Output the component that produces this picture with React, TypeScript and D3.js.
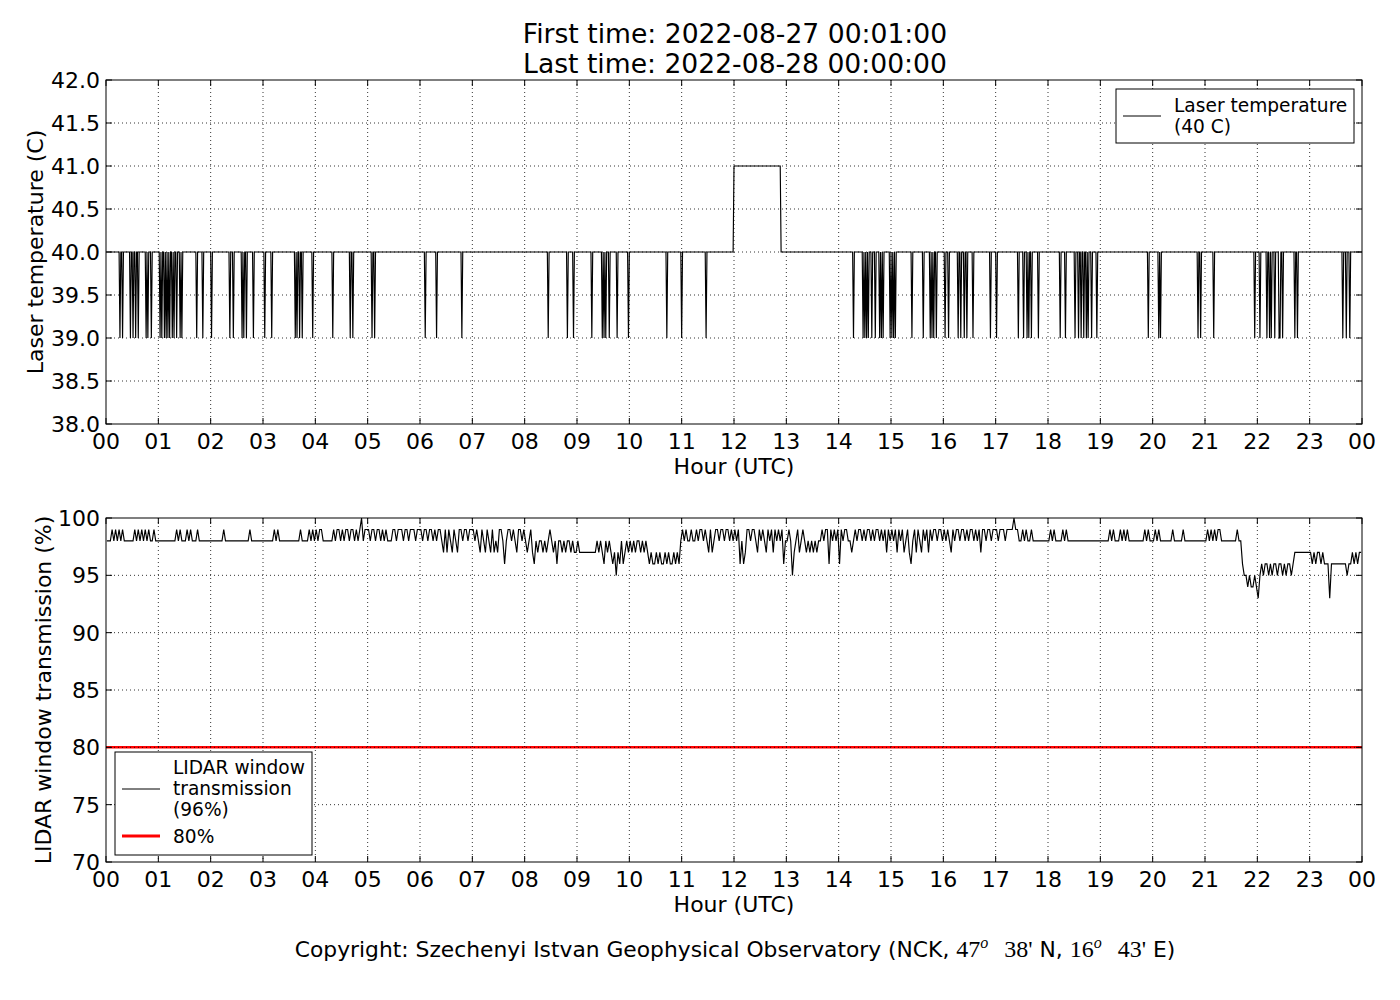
import React, { useRef, useEffect } from "react";
import * as d3 from "d3";

// hour labels along both x axes (0..24 h)
const hourLabels = [
  "00", "01", "02", "03", "04", "05", "06", "07", "08", "09", "10", "11",
  "12", "13", "14", "15", "16", "17", "18", "19", "20", "21", "22", "23", "00",
];
const laserTicks = [38, 38.5, 39, 39.5, 40, 40.5, 41, 41.5, 42];
const transmissionTicks = [70, 75, 80, 85, 90, 95, 100];

// laser temperature: 40 C baseline, one-minute drops to 39 C at these minutes of the day
const laserDipMinutes = [
  16, 19, 28, 31, 34, 37, 46, 48, 52, 62, 64, 67, 69, 71, 73, 76, 78, 81, 85, 87,
  104, 111, 121, 142, 146, 156, 158, 161, 169, 182, 190, 217, 219, 222, 225, 237,
  260, 280, 283, 305, 308, 366, 379, 408, 507, 529, 536, 557, 569, 571, 573, 577,
  586, 599, 643, 660, 688, 857, 868, 870, 872, 874, 878, 882, 887, 889, 891, 899,
  901, 903, 905, 924, 937, 945, 947, 949, 952, 962, 966, 977, 980, 984, 987, 994,
  1014, 1021, 1046, 1052, 1056, 1058, 1061, 1069, 1094, 1100, 1111, 1115, 1118,
  1121, 1124, 1126, 1130, 1136, 1195, 1207, 1209, 1252, 1255, 1270, 1317, 1323,
  1331, 1334, 1336, 1340, 1345, 1346, 1349, 1363, 1366, 1418, 1422, 1426,
];
// minutes where the laser sat at 41 C
const laserHighMinutes = [720, 773];

// window transmission, 2-minute samples per hour; digit = value - 90, X = 100
const transmissionByHour = [
  "8889898989 8888889898 9898988988",
  "8888888888 9898889898 8898888888",
  "8888888988 8888888888 8898888888",
  "8888889898 8888888888 8988889898",
  "9899888888 9899898998 998989X899",
  "9899899898 9888998999 8998999899",
  "9899899898 9987979879 8799899899",
  "9898798798 7978799868 9989879989",
  "8789768788 7878987868 8787887877",
  "8777777777 7878768787 6757686787",
  "8787887878 7676676766 7676676768",
  "9898898898 9989879789 9899899898",
  "9896867998 9987989879 8979898968",
  "8985789789 8787878788 9899698989",
  "6989988789 8998989989 8998989798",
  "9897989789 7689798798 9798998998",
  "9898798998 9989899898 9799899899",
  "9899989999 X998898988 9888888888",
  "8989888898 9888888888 8888888888",
  "8888898988 8989898888 8888898988",
  "8989888888 8988888988 8888888888",
  "8989898998 8888888898 8655454454",
  "3565665656 6566565665 6777777777",
  "7676776766 6366666666 6566767677",
];
const thresholdLevel = 80;

const titleLines = ["First time: 2022-08-27 00:01:00", "Last time: 2022-08-28 00:00:00"];

interface Point {
  t: number;
  v: number;
}

const laserSeries: Point[] = d3.range(1, 1441).map((m) => ({
  t: m / 60,
  v: laserDipMinutes.includes(m)
    ? 39
    : m >= laserHighMinutes[0] && m <= laserHighMinutes[1]
    ? 41
    : 40,
}));

const transmissionSeries: Point[] = transmissionByHour.flatMap((s, h) =>
  s
    .replace(/\s/g, "")
    .split("")
    .map((c, i) => ({ t: (h * 60 + i * 2 + 1) / 60, v: c === "X" ? 100 : 90 + Number(c) }))
);

const FONT = "DejaVu Sans, sans-serif";

const App: React.FC = () => {
  const svgRef = useRef<SVGSVGElement>(null);

  useEffect(() => {
    document.body.style.margin = "0";
    const svg = d3.select(svgRef.current);
    svg.selectAll("*").remove();

    const x = d3.scaleLinear().domain([0, 24]).range([106, 1362]);
    const yLaser = d3.scaleLinear().domain([38, 42]).range([424, 80]);
    const yTrans = d3.scaleLinear().domain([70, 100]).range([862, 518]);

    const drawPanel = (
      y: d3.ScaleLinear<number, number>,
      yTicks: number[],
      fmt: (v: number) => string,
      yLabel: string,
      yLabelX: number,
      series: Point[],
      extra?: (g: d3.Selection<SVGGElement, unknown, null, undefined>) => void
    ) => {
      const [yb, yt] = y.range();
      const [xl, xr] = x.range();
      const g = svg.append("g");
      const clipId = `clip-${yt}`;
      g.append("clipPath")
        .attr("id", clipId)
        .append("rect")
        .attr("x", xl)
        .attr("y", yt - 1)
        .attr("width", xr - xl)
        .attr("height", yb - yt + 2);

      const plot = g.append("g").attr("clip-path", `url(#${clipId})`);
      plot
        .append("path")
        .datum(series)
        .attr("fill", "none")
        .attr("stroke", "#000")
        .attr("stroke-width", 1.15)
        .attr(
          "d",
          d3
            .line<Point>()
            .x((d) => x(d.t))
            .y((d) => y(d.v))
        );
      if (extra) extra(plot);

      // dotted grid
      const grid = g
        .append("g")
        .attr("stroke", "#000")
        .attr("stroke-width", 0.8)
        .attr("stroke-dasharray", "1,3");
      grid
        .selectAll("line.gx")
        .data(d3.range(1, 24))
        .join("line")
        .attr("x1", (d) => x(d))
        .attr("x2", (d) => x(d))
        .attr("y1", yt)
        .attr("y2", yb);
      grid
        .selectAll("line.gy")
        .data(yTicks.slice(1, -1))
        .join("line")
        .attr("x1", xl)
        .attr("x2", xr)
        .attr("y1", (d) => y(d))
        .attr("y2", (d) => y(d));

      // frame
      g.append("rect")
        .attr("x", xl)
        .attr("y", yt)
        .attr("width", xr - xl)
        .attr("height", yb - yt)
        .attr("fill", "none")
        .attr("stroke", "#000")
        .attr("stroke-width", 1);

      // inward ticks on all four sides
      const ticks = g.append("g").attr("stroke", "#000").attr("stroke-width", 1);
      const hours = d3.range(0, 25);
      hours.forEach((h) => {
        ticks.append("line").attr("x1", x(h)).attr("x2", x(h)).attr("y1", yb).attr("y2", yb - 6);
        ticks.append("line").attr("x1", x(h)).attr("x2", x(h)).attr("y1", yt).attr("y2", yt + 6);
      });
      yTicks.forEach((v) => {
        ticks.append("line").attr("x1", xl).attr("x2", xl + 6).attr("y1", y(v)).attr("y2", y(v));
        ticks.append("line").attr("x1", xr).attr("x2", xr - 6).attr("y1", y(v)).attr("y2", y(v));
      });

      const labels = g.append("g").attr("font-family", FONT).attr("font-size", 22).attr("fill", "#000");
      labels
        .selectAll("text.xt")
        .data(hours)
        .join("text")
        .attr("x", (d) => x(d))
        .attr("y", yb + 25)
        .attr("text-anchor", "middle")
        .text((d) => hourLabels[d]);
      labels
        .selectAll("text.yt")
        .data(yTicks)
        .join("text")
        .attr("class", "yt")
        .attr("x", xl - 6)
        .attr("y", (d) => y(d))
        .attr("dy", "0.36em")
        .attr("text-anchor", "end")
        .text((d) => fmt(d));
      labels
        .append("text")
        .attr("x", (xl + xr) / 2)
        .attr("y", yb + 50)
        .attr("text-anchor", "middle")
        .text("Hour (UTC)");
      labels
        .append("text")
        .attr("transform", `translate(${yLabelX},${(yt + yb) / 2}) rotate(-90)`)
        .attr("dy", "0.36em")
        .attr("text-anchor", "middle")
        .text(yLabel);
      return g;
    };

    svg.append("rect").attr("width", 1400).attr("height", 1000).attr("fill", "#fff");

    // title
    svg
      .append("g")
      .attr("font-family", FONT)
      .attr("font-size", 26.6)
      .attr("text-anchor", "middle")
      .selectAll("text")
      .data(titleLines)
      .join("text")
      .attr("x", 735)
      .attr("y", (_, i) => 43 + i * 30)
      .text((d) => d);

    drawPanel(yLaser, laserTicks, d3.format(".1f"), "Laser temperature (C)", 35, laserSeries);

    drawPanel(
      yTrans,
      transmissionTicks,
      d3.format("d"),
      "LIDAR window transmission (%)",
      43,
      transmissionSeries,
      (plot) => {
        plot
          .append("line")
          .attr("x1", x(0))
          .attr("x2", x(24))
          .attr("y1", yTrans(thresholdLevel))
          .attr("y2", yTrans(thresholdLevel))
          .attr("stroke", "#ff0000")
          .attr("stroke-width", 2.5);
      }
    );

    // legends
    const legend = (
      bx: number,
      by: number,
      bw: number,
      bh: number,
      items: { lines: string[]; color: string; width: number; lineY: number; textY: number }[]
    ) => {
      const lg = svg.append("g");
      lg.append("rect")
        .attr("x", bx)
        .attr("y", by)
        .attr("width", bw)
        .attr("height", bh)
        .attr("fill", "#fff")
        .attr("stroke", "#000")
        .attr("stroke-width", 1);
      items.forEach((it) => {
        lg.append("line")
          .attr("x1", bx + 7)
          .attr("x2", bx + 45)
          .attr("y1", by + it.lineY)
          .attr("y2", by + it.lineY)
          .attr("stroke", it.color)
          .attr("stroke-width", it.width);
        lg.append("g")
          .attr("font-family", FONT)
          .attr("font-size", 18.6)
          .selectAll("text")
          .data(it.lines)
          .join("text")
          .attr("x", bx + 58)
          .attr("y", (_, i) => by + it.textY + i * 21)
          .attr("dy", "0.36em")
          .text((d) => d);
      });
    };

    legend(1116, 89, 238, 54, [
      { lines: ["Laser temperature", "(40 C)"], color: "#000", width: 1, lineY: 27, textY: 16 },
    ]);
    legend(115, 752, 197, 103, [
      { lines: ["LIDAR window", "transmission", "(96%)"], color: "#000", width: 1, lineY: 37, textY: 15 },
      { lines: ["80%"], color: "#ff0000", width: 3, lineY: 84, textY: 84 },
    ]);

    // copyright line with math-style coordinates
    const cp = svg
      .append("text")
      .attr("x", 735)
      .attr("y", 957)
      .attr("text-anchor", "middle")
      .attr("font-family", FONT)
      .attr("font-size", 21.8);
    const serif = "Liberation Serif, DejaVu Serif, serif";
    cp.append("tspan").text("Copyright: Szechenyi Istvan Geophysical Observatory (NCK, ");
    const coord = (deg: string, min: string, tail: string) => {
      cp.append("tspan").attr("font-family", serif).attr("font-size", 24).text(deg);
      cp.append("tspan")
        .attr("font-family", serif)
        .attr("font-style", "italic")
        .attr("font-size", 16)
        .attr("dy", -9)
        .text("o");
      cp.append("tspan").attr("dy", 9).attr("dx", 16).attr("font-family", serif).attr("font-size", 24).text(min);
      cp.append("tspan").text(tail);
    };
    coord("47", "38'", " N, ");
    coord("16", "43'", " E)");
  }, []);

  return <svg ref={svgRef} width={1400} height={1000} style={{ display: "block" }}></svg>;
};

export default App;
